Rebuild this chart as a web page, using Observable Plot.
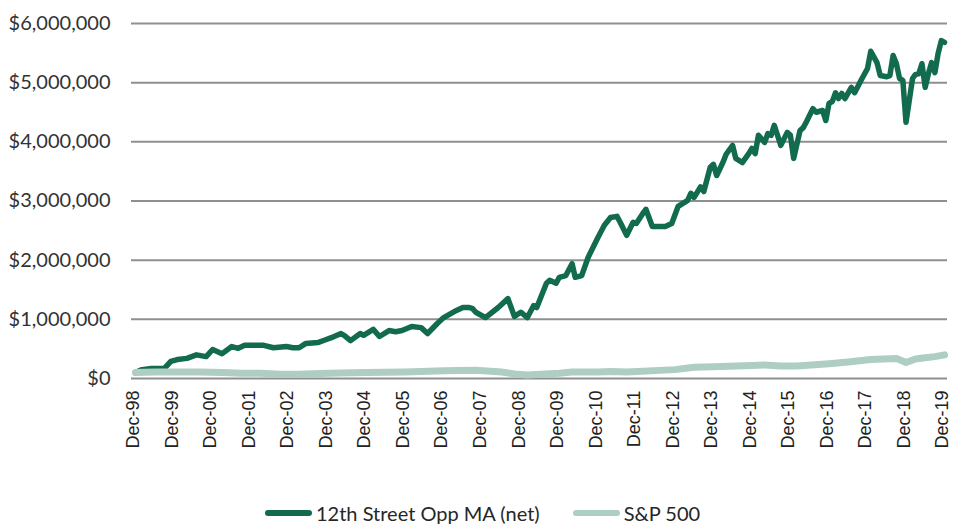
<!DOCTYPE html>
<html>
<head>
<meta charset="utf-8">
<script src="https://cdn.jsdelivr.net/npm/d3@7"></script>
<script src="https://cdn.jsdelivr.net/npm/@observablehq/plot@0.6"></script>
<style>
  html, body { margin: 0; padding: 0; background: #fff; }
  #chart { width: 953px; height: 525px; overflow: hidden; }
  .legend { display: flex; align-items: center; height: 30px; margin-top: 18px; padding-left: 265px;
            font-family: Lato, "Liberation Sans", sans-serif; font-size: 20px; color: #262626; }
  .legend .sw { display: inline-block; width: 47px; height: 6px; border-radius: 3px; margin-right: 4px; }
  .legend .item { display: flex; align-items: center; margin-right: 33px; white-space: nowrap; }
</style>
</head>
<body>
<div id="chart"></div>
<script>
// ---- Data (values in $ millions) ----
const seriesNames = ["12th Street Opp MA (net)", "S&P 500"];
const seriesColors = ["#126B4E", "#AFCEC2"];

const fundDates = ["1998-12","1999-02","1999-05","1999-09","1999-11","2000-01","2000-04","2000-07","2000-10","2000-12",
  "2001-03","2001-06","2001-08","2001-10","2002-04","2002-07","2002-11","2003-01","2003-03","2003-05",
  "2003-09","2003-11","2004-01","2004-04","2004-05","2004-07","2004-10","2004-11","2005-02","2005-04",
  "2005-07","2005-09","2005-11","2006-02","2006-05","2006-07","2006-10","2006-12","2007-04","2007-06",
  "2007-08","2007-09","2007-10","2008-01","2008-05","2008-08","2008-10","2008-12","2009-02","2009-04",
  "2009-05","2009-08","2009-09","2009-11","2009-12","2010-02","2010-04","2010-05","2010-07","2010-09",
  "2010-12","2011-02","2011-04","2011-06","2011-07","2011-09","2011-11","2011-12","2012-02","2012-03",
  "2012-05","2012-07","2012-09","2012-11","2013-01","2013-04","2013-05","2013-06","2013-08","2013-09",
  "2013-11","2013-12","2014-01","2014-03","2014-04","2014-06","2014-07","2014-09","2014-11","2014-12",
  "2015-01","2015-02","2015-04","2015-05","2015-06","2015-07","2015-09","2015-11","2015-12","2016-01",
  "2016-03","2016-04","2016-05","2016-07","2016-08","2016-10","2016-11","2016-12","2017-01","2017-02",
  "2017-03","2017-04","2017-05","2017-07","2017-08","2017-10","2017-12","2018-01","2018-03","2018-04",
  "2018-06","2018-07","2018-08","2018-09","2018-10","2018-11","2018-12","2019-02","2019-03","2019-04",
  "2019-05","2019-06","2019-07","2019-08","2019-09","2019-10","2019-11","2019-12"];
const fundValues = [0.10,0.15,0.17,0.17,0.29,0.32,0.34,0.40,0.37,0.49,
  0.42,0.54,0.51,0.56,0.56,0.52,0.54,0.52,0.52,0.59,
  0.61,0.65,0.69,0.76,0.73,0.64,0.76,0.73,0.83,0.71,
  0.81,0.79,0.81,0.88,0.86,0.76,0.93,1.03,1.15,1.20,
  1.20,1.18,1.12,1.03,1.20,1.35,1.05,1.12,1.03,1.23,
  1.20,1.61,1.66,1.61,1.71,1.74,1.94,1.71,1.74,2.05,
  2.38,2.59,2.72,2.74,2.64,2.42,2.64,2.62,2.79,2.86,
  2.57,2.57,2.57,2.62,2.91,3.01,3.13,3.06,3.24,3.16,
  3.57,3.62,3.43,3.65,3.79,3.94,3.72,3.65,3.80,3.89,
  3.80,4.11,3.99,4.14,4.11,4.28,3.94,4.16,4.11,3.72,
  4.19,4.24,4.34,4.56,4.50,4.53,4.36,4.65,4.68,4.83,
  4.73,4.82,4.73,4.92,4.83,5.04,5.24,5.53,5.34,5.12,
  5.10,5.12,5.46,5.32,5.07,5.04,4.33,5.07,5.14,5.15,
  5.32,4.92,5.15,5.34,5.17,5.49,5.71,5.68];

const spDates = ["1998-12","1999-06","1999-12","2000-08","2001-03","2001-09","2002-03","2002-09","2003-03","2003-12",
  "2004-12","2005-12","2006-12","2007-10","2008-06","2008-11","2009-02","2009-12","2010-04","2010-12",
  "2011-04","2011-09","2012-12","2013-06","2013-12","2014-12","2015-04","2015-09","2016-02","2016-12",
  "2017-06","2018-01","2018-09","2018-12","2019-03","2019-06","2019-09","2019-12"];
const spValues = [0.10,0.11,0.11,0.11,0.10,0.09,0.09,0.07,0.07,0.09,
  0.10,0.11,0.13,0.14,0.11,0.07,0.06,0.09,0.11,0.11,
  0.12,0.11,0.15,0.19,0.20,0.22,0.23,0.21,0.21,0.25,
  0.28,0.32,0.34,0.27,0.33,0.35,0.37,0.40];

const yTicks = [0, 1, 2, 3, 4, 5, 6];
const xTickLabels = ["Dec-98","Dec-99","Dec-00","Dec-01","Dec-02","Dec-03","Dec-04","Dec-05","Dec-06","Dec-07",
  "Dec-08","Dec-09","Dec-10","Dec-11","Dec-12","Dec-13","Dec-14","Dec-15","Dec-16","Dec-17","Dec-18","Dec-19"];

// ---- Build ----
const parse = d3.utcParse("%Y-%m");
const fund = fundDates.map((d, i) => ({date: parse(d), v: fundValues[i]}));
const sp = spDates.map((d, i) => ({date: parse(d), v: spValues[i]}));
const xTicks = xTickLabels.map(s => d3.utcParse("%b-%y")(s));

const chart = Plot.plot({
  width: 953,
  height: 480,
  marginLeft: 131,
  marginRight: 6,
  marginTop: 23,
  marginBottom: 102,
  style: {fontFamily: "Lato, sans-serif", fontSize: "20px", color: "#333333", background: "#fff"},
  x: {type: "utc", domain: [xTicks[0], xTicks[xTicks.length - 1]], insetLeft: 4, insetRight: 3, label: null},
  y: {domain: [0, 6], label: null},
  marks: [
    Plot.ruleY(yTicks, {stroke: "#8f8f8f", strokeWidth: 2}),
    Plot.line(fund, {x: "date", y: "v", stroke: seriesColors[0], strokeWidth: 5.5, strokeLinejoin: "round", strokeLinecap: "round"}),
    Plot.line(sp, {x: "date", y: "v", stroke: seriesColors[1], strokeWidth: 7, strokeLinejoin: "round", strokeLinecap: "round"}),
    Plot.axisY({ticks: yTicks, tickSize: 0, tickPadding: 21, label: null, tickFormat: d => "$" + d3.format(",")(d * 1e6), fontSize: 20, fill: "#333"}),
    Plot.axisX({ticks: xTicks, tickSize: 0, tickPadding: 12, tickRotate: -90, label: null, tickFormat: d3.utcFormat("%b-%y"),
      fontFamily: "Liberation Sans, Arial, sans-serif", fontSize: 18, dx: -2, fill: "#222"})
  ]
});

const root = document.getElementById("chart");
root.appendChild(chart);

const legend = document.createElement("div");
legend.className = "legend";
seriesNames.forEach((name, i) => {
  const item = document.createElement("span");
  item.className = "item";
  const sw = document.createElement("span");
  sw.className = "sw";
  sw.style.background = seriesColors[i];
  const label = document.createElement("span");
  label.textContent = name;
  item.appendChild(sw);
  item.appendChild(label);
  legend.appendChild(item);
});
root.appendChild(legend);
</script>
</body>
</html>
